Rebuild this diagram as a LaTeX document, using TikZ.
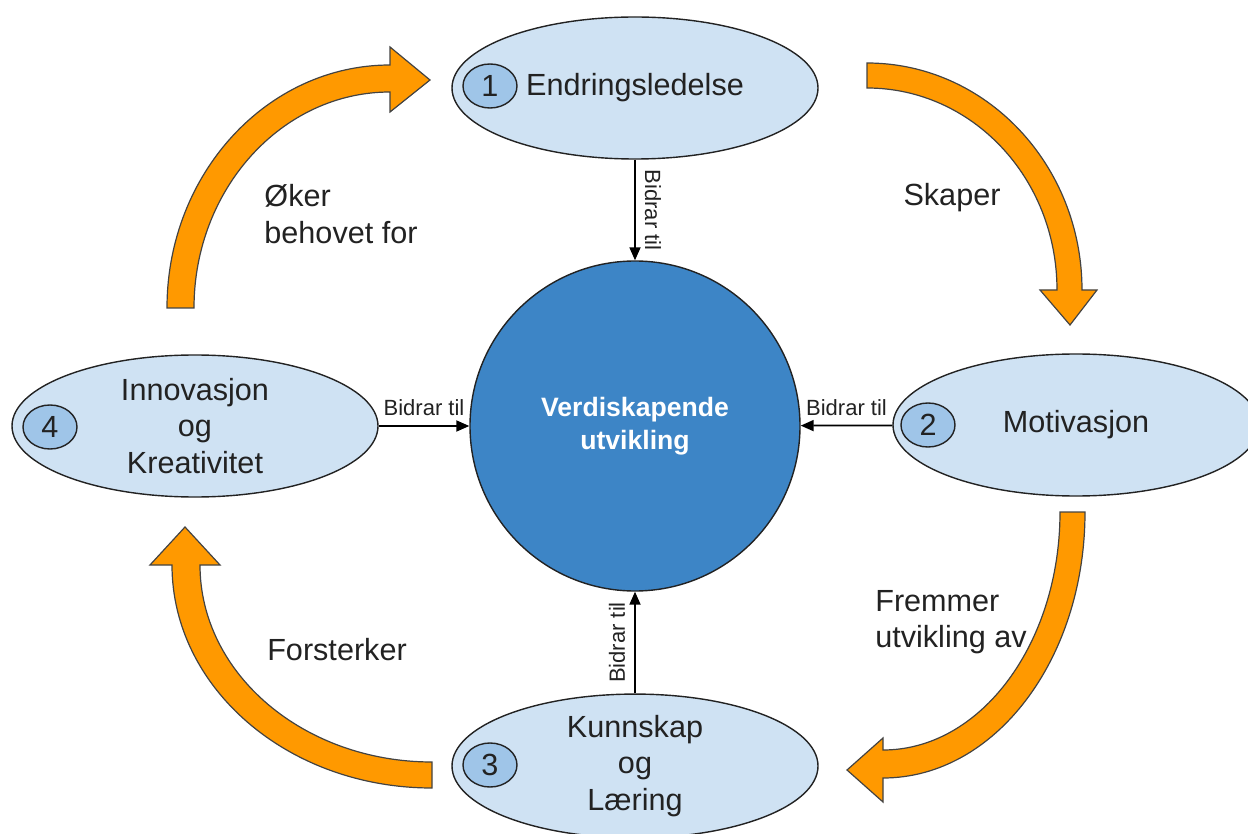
\documentclass[tikz,border=0pt]{standalone}
\usepackage{fontspec}
\setmainfont{Liberation Sans}
\usetikzlibrary{shapes.geometric,arrows.meta}
\definecolor{bubblefill}{HTML}{CFE2F3}
\definecolor{numfill}{HTML}{9FC5E8}
\definecolor{corefill}{HTML}{3D85C6}
\definecolor{flow}{HTML}{FF9900}
\definecolor{ink}{HTML}{222222}

\begin{document}
\begin{tikzpicture}[x=0.5pt,y=-0.5pt,
  bubble/.style={ellipse, draw=ink, line width=0.7pt, fill=bubblefill,
    minimum width=183pt, minimum height=71pt, inner sep=0pt, align=center,
    font=\fontsize{15.3}{18.3}\selectfont, text=ink},
  numbadge/.style={ellipse, draw=ink, line width=0.7pt, fill=numfill,
    minimum width=27pt, minimum height=22pt, inner sep=0pt,
    font=\fontsize{15.3}{18.3}\selectfont, text=ink},
  core/.style={circle, draw=ink, line width=0.7pt, fill=corefill,
    minimum size=165pt, inner sep=0pt, align=center, text=white,
    font=\bfseries\fontsize{13.3}{16.5}\selectfont},
  link/.style={-{Triangle[length=6.5pt,width=5.5pt]}, line width=0.9pt, draw=black},
  linklabel/.style={font=\fontsize{11}{12}\selectfont, text=ink, inner sep=4.5pt},
  flowarrow/.style={fill=flow, draw=ink!85, line width=0.6pt, line join=miter},
  flowlabel/.style={font=\fontsize{15.3}{18.3}\selectfont, text=ink, align=left},
]
\useasboundingbox (0,0) rectangle (1248,834);
\clip (0,0) rectangle (1248,834);

% curved orange flow arrows between the four stages
\draw[flowarrow] (167,308) .. controls (167,174) and (267,65) .. (390,65)
  -- (390,47) -- (430,80) -- (390,112) -- (390,92)
  .. controls (282,92) and (194,189) .. (194,308) -- cycle;
\draw[flowarrow] (867,63) .. controls (986,63) and (1082,165) .. (1082,290)
  -- (1097,290) -- (1070,325) -- (1040,290) -- (1057,290)
  .. controls (1057,178) and (972,88) .. (867,88) -- cycle;
\draw[flowarrow] (1085,512) .. controls (1085,659) and (995,778) .. (883,778)
  -- (883,802) -- (847,770) -- (883,738) -- (883,750)
  .. controls (981,750) and (1060,643) .. (1060,512) -- cycle;
\draw[flowarrow] (432,788) .. controls (288,788) and (172,688) .. (172,565)
  -- (150,565) -- (185,527) -- (220,565) -- (200,565)
  .. controls (200,674) and (304,762) .. (432,762) -- cycle;

% flow labels
\node[flowlabel] (lblA) at (341,214) {Øker\\behovet for};
\node[flowlabel] (lblB) at (952,198) {Skaper};
\node[flowlabel] (lblC) at (951,622) {Fremmer\\utvikling av};
\node[flowlabel] (lblD) at (337,650) {Forsterker};

% stages
\node[bubble] (e1) at (635,88)   {Endringsledelse};
\node[bubble] (e2) at (1076,425) {Motivasjon};
\node[bubble] (e3) at (635,766)  {Kunnskap\\og\\Læring};
\node[bubble] (e4) at (195,426)  {Innovasjon\\og\\Kreativitet};

\node[numbadge] (n1) at (490,86)  {1};
\node[numbadge] (n2) at (928,425) {2};
\node[numbadge] (n3) at (490,765) {3};
\node[numbadge] (n4) at (50,427)  {4};

% centre
\node[core] (c) at (635,426) {Verdiskapende\\utvikling};

% contributions to the centre
\draw[link] (e1) -- (c) node[linklabel, midway, sloped, above] {Bidrar til};
\draw[link] (e3) -- (c) node[linklabel, midway, sloped, above] {Bidrar til};
\draw[link] (e4) -- (c) node[linklabel, midway, above] {Bidrar til};
\draw[link] (e2) -- (c) node[linklabel, midway, above] {Bidrar til};
\end{tikzpicture}
\end{document}
